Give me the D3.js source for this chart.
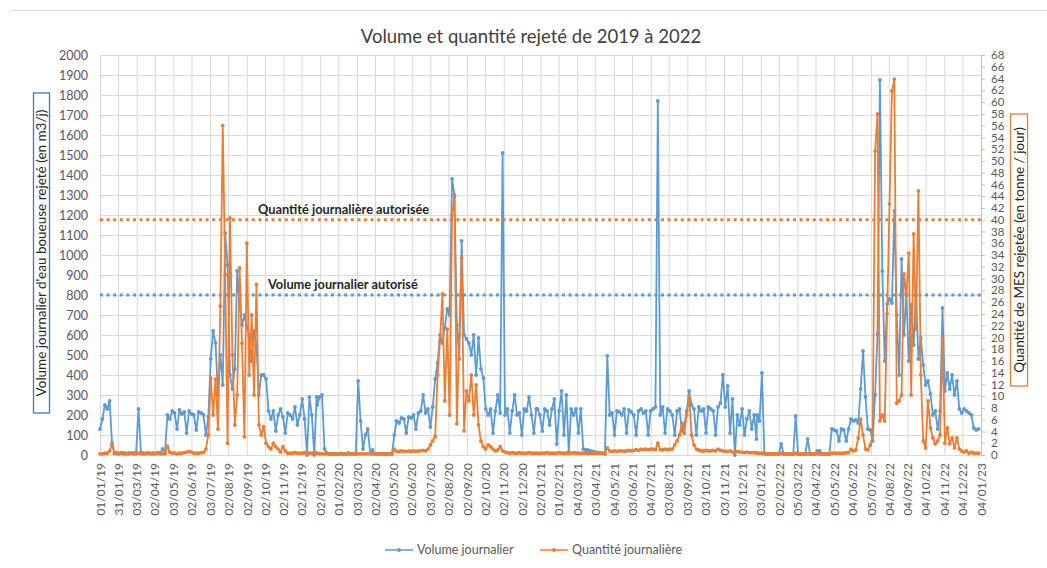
<!DOCTYPE html>
<html><head><meta charset="utf-8">
<script src="https://cdn.jsdelivr.net/npm/d3@7"></script>
<style>body{margin:0;background:#fff;} svg{font-family:Lato,"Open Sans",sans-serif;}</style>
</head><body>
<svg id="c" width="1047" height="568"></svg>
<script>
// ---- DATA ----
const tickLabels = ["01/01/19","31/01/19","03/03/19","02/04/19","03/05/19","02/06/19","03/07/19","02/08/19","02/09/19","02/10/19","02/11/19","02/12/19",
"02/01/20","01/02/20","03/03/20","02/04/20","03/05/20","02/06/20","03/07/20","02/08/20","02/09/20","02/10/20","02/11/20","02/12/20",
"02/01/21","01/02/21","04/03/21","03/04/21","04/05/21","03/06/21","04/07/21","03/08/21","03/09/21","03/10/21","03/11/21","03/12/21",
"03/01/22","02/02/22","05/03/22","04/04/22","05/05/22","04/06/22","05/07/22","04/08/22","04/09/22","04/10/22","04/11/22","04/12/22","04/01/23"];
const leftTicks = d3.range(0, 2001, 100);
const rightTicks = d3.range(0, 69, 2);
const volumeLimit = 800;      // m3/j
const quantityLimit = 40;     // t/j
const stepDays = 4;
// each yearly block starts at this date, one value every stepDays
const blockStarts = ["2018-12-28","2019-12-28","2020-12-28","2021-12-28"];

// Volume journalier (m3/j)
const volume2019 = [140,130,180,250,230,270,60,8,10,8,12,10,8,10,8,10,12,230,12,10,8,10,8,10,8,12,10,30,10,
200,180,220,210,130,225,205,215,110,220,205,200,125,215,210,200,100,190,
480,620,560,300,500,350,1110,950,400,330,430,920,750,650,700,640,600,470,620,550,
300,400,400,380,220,180,220,120,200,230,190,110,210,200,180,240,150,200,280,180,0,290,200,0,290];
const volume2020 = [250,290,300,30,10,5,5,5,5,5,8,5,5,10,5,5,5,370,170,30,100,130,10,25,5,5,5,5,5,5,5,5,
100,170,160,185,180,110,190,185,200,130,210,220,300,210,230,140,240,
380,460,600,560,640,730,700,1380,1300,650,480,1070,600,580,560,500,600,400,585,430,385,
230,200,230,110,220,300,210,1510,200,230,110,220,300,200,210,100,230,220,290,200,110,230];
const volume2021 = [230,200,120,230,220,150,230,280,55,220,320,100,300,15,230,200,230,110,230,
30,25,25,20,18,15,12,10,8,5,
495,200,210,100,220,215,200,230,110,225,215,200,100,220,230,210,220,100,220,230,240,
1770,200,240,110,230,220,200,100,220,230,120,150,220,320,250,230,100,240,220,230,110,240,230,220,100,240,260,400,240,345,110,280,0,200,150,230,100,180,220,130,200,80];
const volume2022 = [200,170,410,10,5,5,5,5,5,5,55,5,5,5,5,5,195,5,5,5,5,80,5,5,5,20,20,5,5,5,5,
130,125,120,70,130,125,70,130,180,170,175,160,330,520,290,130,125,70,
300,605,1875,920,470,755,780,760,1220,700,400,980,600,800,470,750,550,800,480,585,450,350,370,305,200,220,130,220,735,320,410,330,400,300,370,230,210,230,220,210,200,135,125,130];

// Quantité journalière (tonne/jour)
const quantity2019 = [0.2,0.2,0.2,0.3,0.3,0.7,1.7,0.4,
0.2,0.2,0.3,0.2,0.2,0.2,0.3,0.2,0.2,0.3,0.2,0.2,0.2,0.3,0.2,0.2,0.2,0.3,0.2,0.2,0.2,
1.5,0.5,0.3,0.3,0.2,0.3,0.3,0.4,0.5,0.6,0.5,0.3,0.3,0.3,0.4,0.4,
1.0,3.4,13.1,6.8,12.9,4.4,25.3,56,30.6,2.0,40.3,17,5.1,10.2,31.8,19,3.1,36,13.6,23.8,10.2,29,5.1,3.4,4.8,2.0,1.4,1.0,2.0,1.4,1.0,0.5,1.4,0.7,0.3,
0.3,0.3,0.4,0.3,0.3,0.3,0.4,0.3,0.3,0.3,0.4,0.3];
const quantity2020 = [0.3,0.2,0.2,0.2,0.2,0.2,0.2,0.2,0.2,0.2,0.2,0.2,0.2,0.2,0.2,0.2,0.3,0.2,0.2,0.2,0.2,0.2,0.2,0.2,0.2,0.2,0.2,0.2,0.2,0.2,0.2,0.2,
1.0,0.6,0.6,0.7,0.6,0.6,0.7,0.6,0.7,0.6,0.7,0.7,0.8,0.7,
1.0,1.7,2.4,3.1,13.6,19.4,27.4,9.2,21.4,6.8,40.8,44,5.3,20.4,33.5,4.1,10.9,9.2,13.6,6.8,11.9,5.1,2.4,1.4,
1.0,1.7,1.4,1.0,0.7,0.85,1.4,0.7,0.5,0.4,0.3,0.4,0.3,0.3,0.4,0.3,0.3,0.3,0.4,0.3,0.3,0.3];
const quantity2021 = [0.3,0.3,0.3,0.3,0.4,0.3,0.3,0.3,0.3,0.4,0.3,0.3,0.3,0.3,0.3,0.4,0.3,0.3,0.3,0.3,0.3,0.3,0.3,0.3,0.3,0.3,0.3,0.3,0.3,
1.2,
0.7,0.6,0.7,0.6,0.7,0.7,0.6,0.7,0.8,0.7,0.8,0.9,0.8,1.0,0.9,1.0,0.9,1.0,1.0,0.9,
2.0,
0.9,0.85,1.0,0.9,1.0,1.0,1.7,2.4,3.4,5.4,3.7,6.8,10,3.4,1.7,1.0,0.85,0.7,0.7,0.8,0.7,0.7,0.8,0.7,1.0,0.8,0.7,0.6,0.6,0.7,0.5,0.5,0.6,0.5,0.5,0.4,0.5,0.4,0.4,0.4,0.4];
const quantity2022 = [0.3,0.3,0.3,0.2,0.2,0.2,0.2,0.2,0.2,0.2,0.3,0.2,0.2,0.2,0.2,0.2,0.3,0.2,0.2,0.2,0.2,0.2,0.2,0.2,0.2,0.2,0.2,0.2,0.2,0.2,0.2,0.3,0.3,0.3,0.3,0.3,0.3,0.4,0.4,
1.0,0.7,0.85,2.9,6.1,3.4,1.0,0.85,1.7,3.4,
51.7,58,5.8,6.8,5.8,24,42.7,61.9,63.9,8.8,9.2,10.2,30.8,27.4,34.3,10.2,37.6,21.4,44.9,13.6,2.4,1.2,9.2,4.6,2.9,1.9,2.4,3.4,19.7,2.0,4.6,1.9,2.9,1.2,2.9,1.0,0.7,0.5,0.7,0.3,0.5,0.3,0.3,0.3];

// ---- BUILD ----
const parseTick = d3.timeParse("%d/%m/%y");
const parseISO = d3.timeParse("%Y-%m-%d");
const tickDates = tickLabels.map(parseTick);
const xDomain = [tickDates[0], tickDates[tickDates.length-1]];

function buildSeries(blocks){
  const out = [];
  blocks.forEach((vals, b) => {
    const s = parseISO(blockStarts[b]);
    vals.forEach((v, i) => out.push({date: d3.timeDay.offset(s, i*stepDays), v}));
  });
  return out.filter(d => d.date >= xDomain[0] && d.date <= xDomain[1]);
}
const volumeData = buildSeries([volume2019, volume2020, volume2021, volume2022]);
const quantityData = buildSeries([quantity2019, quantity2020, quantity2021, quantity2022]);

const svg = d3.select("#c");
const L = 100, R = 981, T = 55, B = 455;
const x = d3.scaleTime().domain(xDomain).range([L, R]);
const yL = d3.scaleLinear().domain([0, 2000]).range([B, T]);
const yR = d3.scaleLinear().domain([0, 68]).range([B, T]);

const blue = "#5B9BD5", orange = "#ED7D31", grid = "#d9d9d9", txt = "#595959";

// frame
svg.append("line").attr("x1",10).attr("x2",1047).attr("y1",10.5).attr("y2",10.5).attr("stroke","#dcdcdc");

// title
svg.append("text").attr("x", 531).attr("y", 43).attr("text-anchor","middle")
  .attr("font-size", 18.5).attr("fill","#404040").text("Volume et quantité rejeté de 2019 à 2022");

// horizontal grid + left axis
const gL = svg.append("g").attr("transform",`translate(${L},0)`)
  .call(d3.axisLeft(yL).tickValues(leftTicks).tickFormat(d3.format("d")).tickSize(-(R-L)).tickPadding(12));
gL.select(".domain").remove();
gL.selectAll(".tick line").attr("stroke", grid);
gL.selectAll(".tick text").attr("fill", txt).attr("font-size", 12.5).attr("font-family","Lato");

// vertical grid + x axis
const gX = svg.append("g").attr("transform",`translate(0,${B})`)
  .call(d3.axisBottom(x).tickValues(tickDates).tickFormat((d,i)=>tickLabels[i]).tickSize(-(B-T)));
gX.select(".domain").attr("stroke", grid);
gX.selectAll(".tick line").attr("stroke", grid);
gX.selectAll(".tick text").attr("fill", txt).attr("font-size", 12).attr("font-family","Lato")
  .attr("text-anchor","end").attr("transform","rotate(-90)").attr("x",-8).attr("y",0).attr("dy","0.35em");

// right axis
const gR = svg.append("g").attr("transform",`translate(${R},0)`)
  .call(d3.axisRight(yR).tickValues(rightTicks).tickSize(4).tickPadding(6));
gR.select(".domain").attr("stroke", "#bfbfbf");
gR.selectAll(".tick line").attr("stroke", "#bfbfbf");
gR.selectAll(".tick text").attr("fill", txt).attr("font-size", 11.5).attr("font-family","Lato");

// limit lines
svg.append("line").attr("x1",L).attr("x2",R).attr("y1",yR(quantityLimit)).attr("y2",yR(quantityLimit))
  .attr("stroke",orange).attr("stroke-width",3).attr("stroke-dasharray","3,3.6");
svg.append("line").attr("x1",L).attr("x2",R).attr("y1",yL(volumeLimit)).attr("y2",yL(volumeLimit))
  .attr("stroke",blue).attr("stroke-width",3).attr("stroke-dasharray","3,3.6");
svg.append("text").attr("x",258).attr("y",yR(quantityLimit)-6).attr("font-size",12.8).attr("font-weight","bold")
  .attr("fill","#262626").text("Quantité journalière autorisée");
svg.append("text").attr("x",268).attr("y",yL(volumeLimit)-6).attr("font-size",12.8).attr("font-weight","bold")
  .attr("fill","#262626").text("Volume journalier autorisé");

// series
function drawSeries(data, y, color){
  const g = svg.append("g");
  g.append("path").datum(data).attr("fill","none").attr("stroke",color).attr("stroke-width",1.8)
    .attr("stroke-linejoin","round")
    .attr("d", d3.line().x(d=>x(d.date)).y(d=>y(d.v)));
  g.selectAll("circle").data(data).join("circle")
    .attr("cx", d=>x(d.date)).attr("cy", d=>y(d.v)).attr("r", 1.9).attr("fill", color);
}
drawSeries(volumeData, yL, blue);
drawSeries(quantityData, yR, orange);

// axis titles (boxed)
function boxedTitle(cx, cy, w, h, text, color, rot){
  const g = svg.append("g").attr("transform",`translate(${cx},${cy}) rotate(${rot})`);
  g.append("rect").attr("x",-h/2).attr("y",-w/2).attr("width",h).attr("height",w)
    .attr("fill","#fff").attr("stroke",color).attr("stroke-width",1.3);
  g.append("text").attr("text-anchor","middle").attr("dy","0.35em").attr("font-size",13.5)
    .attr("fill","#262626").text(text);
}
boxedTitle(41.5, 253, 16, 320, "Volume journalier d'eau boueuse rejeté (en m3/j)", "#4472C4", -90);
boxedTitle(1019, 250, 17, 272, "Quantité de MES rejetée (en tonne / jour)", orange, -90);

// legend
const lg = svg.append("g");
[[385, blue, "Volume journalier"], [540, orange, "Quantité journalière"]].forEach(([lx, c, t]) => {
  lg.append("line").attr("x1",lx).attr("x2",lx+28).attr("y1",550).attr("y2",550).attr("stroke",c).attr("stroke-width",1.5);
  lg.append("circle").attr("cx",lx+14).attr("cy",550).attr("r",2).attr("fill",c);
  lg.append("text").attr("x",lx+32).attr("y",550).attr("dy","0.35em").attr("font-size",12.5).attr("fill",txt).text(t);
});
</script>
</body></html>
